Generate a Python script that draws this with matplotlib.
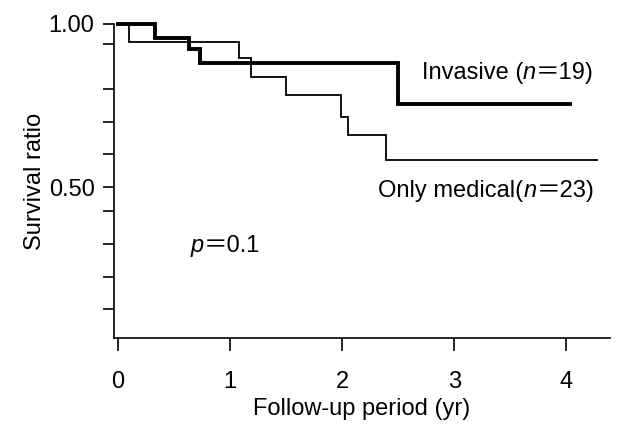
import matplotlib
matplotlib.use("Agg")
import matplotlib.pyplot as plt
from matplotlib.offsetbox import TextArea, HPacker, AnnotationBbox

# Kaplan-Meier steps (time in years, survival ratio)
invasive_t = [0.0, 0.33, 0.63, 0.73, 2.50, 4.03]
invasive_s = [1.00, 0.956, 0.923, 0.881, 0.755, 0.755]
medical_t = [0.0, 0.10, 1.08, 1.19, 1.50, 1.99, 2.05, 2.39, 4.27]
medical_s = [1.00, 0.944, 0.895, 0.838, 0.782, 0.716, 0.660, 0.583, 0.583]

x_ticks = [0, 1, 2, 3, 4]
y_major = [0.50, 1.00]
y_major_labels = ["0.50", "1.00"]
y_minor = [0.94, 0.80, 0.70, 0.60, 0.425, 0.325, 0.225, 0.125]

FONT = ["Liberation Sans", "Noto Sans CJK JP", "DejaVu Sans"]
plt.rcParams["font.family"] = FONT
FS = 17

fig = plt.figure(figsize=(6.18, 4.29), dpi=100)
W, H = 618, 429
ax = fig.add_axes([114 / W, 1 - 338 / H, (610 - 114) / W, (338 - 24) / H])

ax.step(invasive_t, invasive_s, where="post", color="black", lw=2.8,
        solid_joinstyle="miter", clip_on=False, zorder=3)
ax.step(medical_t, medical_s, where="post", color="black", lw=1.3,
        solid_joinstyle="miter", clip_on=False, zorder=2)

ax.set_xlim(-0.036, 4.39)
ax.set_ylim(0.037, 1.0)
for side in ("top", "right"):
    ax.spines[side].set_visible(False)
for side in ("left", "bottom"):
    ax.spines[side].set_linewidth(1.2)

ax.set_xticks(x_ticks)
ax.set_xticklabels([str(v) for v in x_ticks])
ax.set_yticks(y_major)
ax.set_yticklabels(y_major_labels)
ax.set_yticks(y_minor, minor=True)
ax.tick_params(axis="x", direction="out", length=9, width=1.2, pad=15,
               labelsize=FS)
ax.tick_params(axis="y", which="both", direction="out", length=8, width=1.2,
               pad=6, labelsize=FS)
ax.tick_params(axis="y", which="minor", labelleft=False)

ax.set_ylabel("Survival ratio", fontsize=FS, labelpad=2)
ax.set_xlabel("Follow-up period (yr)", fontsize=FS, labelpad=3)


def mixed_label(parts, xy):
    boxes = []
    for txt, italic in parts:
        props = dict(fontsize=FS, color="black", family=FONT,
                     style="italic" if italic else "normal")
        boxes.append(TextArea(txt, textprops=props))
    pack = HPacker(children=boxes, pad=0, sep=0, align="baseline")
    ab = AnnotationBbox(pack, xy, xycoords="data", box_alignment=(0, 0.5),
                        frameon=False, pad=0, annotation_clip=False)
    ax.add_artist(ab)


mixed_label([("Invasive (", False), ("n", True), ("＝19)", False)], (2.71, 0.85))
mixed_label([("Only medical(", False), ("n", True), ("＝23)", False)], (2.32, 0.49))
mixed_label([("p", True), ("＝0.1", False)], (0.65, 0.322))

fig.savefig("out.png", dpi=100)
